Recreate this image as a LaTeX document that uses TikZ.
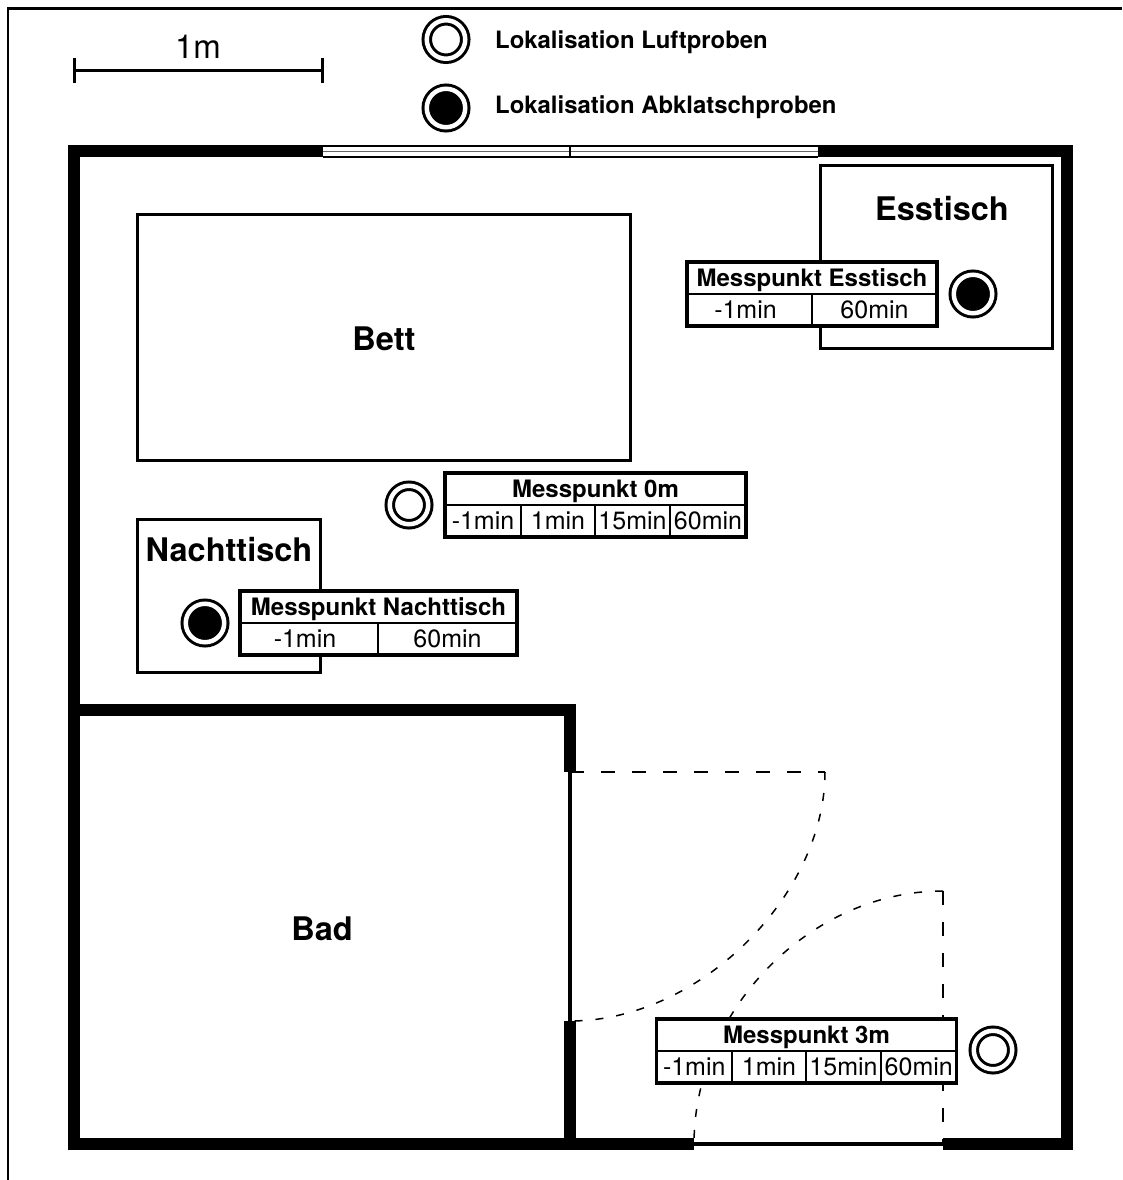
\documentclass[tikz,border=0pt]{standalone}
\usepackage{fontspec}
\setmainfont{TeX Gyre Heros}
\tikzset{
  wand/.style={line width=12pt,line join=miter},
  tuerblatt/.style={line width=4.5pt},
  moebel/.style={draw,line width=3pt,fill=white,inner sep=0pt},
  schild/.style={inner sep=0pt,font=\bfseries\fontsize{32.5}{32.5}\selectfont},
  kopf/.style={draw,line width=2.5pt,fill=white,outer sep=0pt,inner sep=0pt,minimum height=32pt,text height=20pt,text depth=3pt,font=\bfseries\fontsize{24}{24}\selectfont},
  zelle/.style={draw,line width=1.5pt,fill=white,outer sep=0pt,inner sep=0pt,minimum height=32pt,text height=18pt,text depth=1pt,font=\fontsize{25}{25}\selectfont},
  rahmen/.style={line width=3.5pt},
  luft/.style={circle,draw,line width=3pt,double=white,double distance=4.5pt,fill=white,inner sep=0pt,minimum size=38.5pt},
  abklatsch/.style={luft,fill=black},
  legende/.style={inner sep=0pt,anchor=west,font=\bfseries\fontsize{23.9}{23.9}\selectfont},
  gestrichelt/.style={line width=2pt,dash pattern=on 14pt off 17pt},
  bogen/.style={line width=1.5pt,dash pattern=on 8pt off 13pt}
}
\begin{document}
\begin{tikzpicture}[x=1pt,y=-1pt]
        \useasboundingbox (0,0) rectangle (1122,1180);
        \draw[line width=2.5pt] (8,1180) -- (8,8.5) -- (1122,8.5);

        \draw[line width=3pt] (74,58) -- (74,83);
        \draw[line width=3pt] (322,58) -- (322,83);
        \draw[line width=3pt] (74,71) -- (322,71);
        \node[inner sep=0pt,font=\fontsize{33}{33}\selectfont] (massstab) at (198,47) {1m};

        \node[luft] (legendeLuft) at (446,39.5) {};
        \node[abklatsch] (legendeAbklatsch) at (446,108) {};
        \node[legende] (textLuft) at (495,42) {Lokalisation Luftproben};
        \node[legende] (textAbklatsch) at (495,107) {Lokalisation Abklatschproben};

        \node[moebel,minimum width=493.5pt,minimum height=246pt] (bett) at (384,337) {};
        \node[moebel,minimum width=183.5pt,minimum height=153pt] (nachttisch) at (229,595.5) {};
        \node[moebel,minimum width=232.5pt,minimum height=183pt] (esstisch) at (936.5,256.5) {};
        \node[schild] (bettText) at (384,339) {Bett};
        \node[schild] (nachttischText) at (229,550) {Nachttisch};
        \node[schild] (esstischText) at (942,209) {Esstisch};
        \node[schild] (bad) at (322,929) {Bad};

        \draw[wand] (323,151) -- (74,151) -- (74,1144) -- (694,1144);
        \draw[wand] (818,151) -- (1067,151) -- (1067,1144) -- (943,1144);
        \draw[wand] (74,710) -- (570,710) -- (570,772);
        \draw[wand] (570,1021) -- (570,1144);
        \draw[tuerblatt] (570,772) -- (570,1021);
        \draw[tuerblatt] (694,1144) -- (943,1144);

        \draw[line width=2pt] (323,146) -- (818,146);
        \draw[line width=1pt,black!60] (323,151.5) -- (818,151.5);
        \draw[line width=2pt] (323,157) -- (818,157);
        \draw[line width=1.5pt] (570,145) -- (570,158);

        \draw[gestrichelt] (570,772) -- (825,772);
        \draw[bogen] (825,772) .. controls (825,895) and (700,1021) .. (570,1021);
        \draw[gestrichelt] (943,891) -- (943,1144);
        \draw[bogen] (943,891) .. controls (810,891) and (694,1010) .. (694,1144);

        \node[kopf,minimum width=250pt] (essKopf) at (812,278) {Messpunkt Esstisch};
        \node[zelle,minimum width=125pt] (essA) at (749.5,310) {\hspace*{-8pt}-1min};
        \node[zelle,minimum width=125pt] (essB) at (874.5,310) {60min};
        \draw[rahmen] (essKopf.north west) rectangle (essB.south east);
        \node[abklatsch] (essPunkt) at (973,294) {};

        \node[kopf,minimum width=301pt] (nullKopf) at (595.5,489) {Messpunkt 0m};
        \node[zelle,minimum width=76pt] (nullA) at (483,521) {-1min};
        \node[zelle,minimum width=74pt] (nullB) at (558,521) {1min};
        \node[zelle,minimum width=75pt] (nullC) at (632.5,521) {15min};
        \node[zelle,minimum width=76pt] (nullD) at (708,521) {60min};
        \draw[rahmen] (nullKopf.north west) rectangle (nullD.south east);
        \node[luft] (nullPunkt) at (409,505) {};

        \node[kopf,minimum width=277pt] (nachtKopf) at (378.5,607) {Messpunkt Nachttisch};
        \node[zelle,minimum width=138pt] (nachtA) at (309,639) {\hspace*{-8pt}-1min};
        \node[zelle,minimum width=139pt] (nachtB) at (447.5,639) {60min};
        \draw[rahmen] (nachtKopf.north west) rectangle (nachtB.south east);
        \node[abklatsch] (nachtPunkt) at (205,623) {};

        \node[kopf,minimum width=300pt] (dreiKopf) at (806.5,1035) {Messpunkt 3m};
        \node[zelle,minimum width=75.5pt] (dreiA) at (694.25,1067) {-1min};
        \node[zelle,minimum width=74pt] (dreiB) at (769,1067) {1min};
        \node[zelle,minimum width=75pt] (dreiC) at (843.5,1067) {15min};
        \node[zelle,minimum width=75.5pt] (dreiD) at (918.75,1067) {60min};
        \draw[rahmen] (dreiKopf.north west) rectangle (dreiD.south east);
        \node[luft] (dreiPunkt) at (993,1050) {};
      \end{tikzpicture}
\end{document}
